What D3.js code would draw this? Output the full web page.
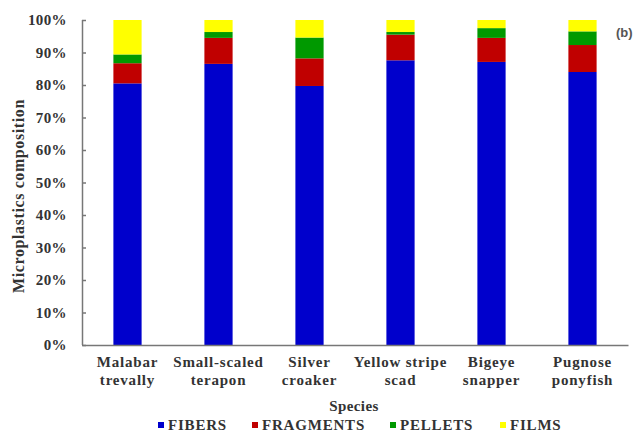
<!DOCTYPE html>
<html>
<head>
<meta charset="utf-8">
<script src="https://cdn.jsdelivr.net/npm/d3@7"></script>
<style>
  body { margin: 0; background: #fff; }
</style>
</head>
<body>
<div id="chart"></div>
<script>
const width = 637
const height = 432
const margin = { top: 20, right: 9, bottom: 87, left: 82 }
const chartWidth = width - margin.left - margin.right
const chartHeight = height - margin.top - margin.bottom
const serif = "Liberation Serif"

// data (percent)
const species = [
  ["Malabar", "trevally"],
  ["Small-scaled", "terapon"],
  ["Silver", "croaker"],
  ["Yellow stripe", "scad"],
  ["Bigeye", "snapper"],
  ["Pugnose", "ponyfish"]
]
const fibers    = [80.5, 86.5, 79.7, 87.6, 87.1, 84.0]
const fragments = [6.2, 8.0, 8.5, 7.9, 7.4, 8.3]
const pellets   = [2.7, 1.8, 6.4, 0.8, 3.0, 4.2]
const films     = [10.6, 3.7, 5.4, 3.7, 2.5, 3.5]
const yTicks = [0, 10, 20, 30, 40, 50, 60, 70, 80, 90, 100]

const keys = ["FIBERS", "FRAGMENTS", "PELLETS", "FILMS"]
const colors = ["#0000cc", "#c00000", "#009900", "#ffff00"]

let rows = species.map((s, i) => ({
  name: s.join(" "),
  FIBERS: fibers[i],
  FRAGMENTS: fragments[i],
  PELLETS: pellets[i],
  FILMS: films[i]
}))

let stacked = d3.stack().keys(keys)(rows)

let svg = d3.select("#chart").append("svg")
  .attr("width", width)
  .attr("height", height)

let chart = svg.append("g").attr("transform", `translate(${margin.left},${margin.top})`)

let xScale = d3.scaleBand()
  .domain(rows.map(d => d.name))
  .range([0, chartWidth])
  .paddingInner(0.69)
  .paddingOuter(0.345)

let yScale = d3.scaleLinear()
  .domain([0, 100])
  .range([chartHeight, 0])

let color = d3.scaleOrdinal().domain(keys).range(colors)

// bars
chart.selectAll(".series")
  .data(stacked)
  .join("g")
  .attr("class", "series")
  .attr("fill", d => color(d.key))
  .selectAll("rect")
  .data(d => d)
  .join("rect")
  .attr("x", d => xScale(d.data.name))
  .attr("width", xScale.bandwidth())
  .attr("y", d => yScale(d[1]))
  .attr("height", d => yScale(d[0]) - yScale(d[1]))

// y axis, ticks pointing inward
let yAxis = d3.axisRight(yScale)
  .tickValues(yTicks)
  .tickSize(4)
  .tickFormat(d => d + "%")

let yAxisG = chart.append("g").attr("class", "yAxis").call(yAxis)
yAxisG.select(".domain").attr("stroke", "#777").attr("stroke-width", 1.5).attr("d", `M0.5,0V${chartHeight}`)
yAxisG.selectAll(".tick line").attr("stroke", "#777").attr("stroke-width", 1.5)
yAxisG.selectAll(".tick text")
  .attr("x", -15)
  .attr("text-anchor", "end")
  .attr("fill", "#333")
  .attr("font-size", "15px")
  .attr("font-family", serif)
  .attr("font-weight", "bold")
  .attr("letter-spacing", "0.4px")

// x axis line
let xAxis = d3.axisBottom(xScale).tickSize(0).tickFormat("")
let xAxisG = chart.append("g").attr("transform", `translate(0,${chartHeight})`).call(xAxis)
xAxisG.select(".domain").attr("stroke", "#777").attr("stroke-width", 1.5)

// two-line category labels
xAxisG.selectAll(".tick").each(function (d, i) {
  let t = d3.select(this).append("text")
    .attr("fill", "#333")
    .attr("font-family", serif)
    .attr("font-weight", "bold")
    .attr("font-size", "15px")
    .attr("letter-spacing", "0.8px")
    .attr("text-anchor", "middle")
  t.selectAll("tspan")
    .data(species[i])
    .join("tspan")
    .attr("x", 0)
    .attr("y", (s, j) => 22 + j * 18)
    .text(s => s)
})

// axis titles
svg.append("text")
  .attr("x", margin.left + chartWidth / 2 - 1)
  .attr("y", 411)
  .attr("text-anchor", "middle")
  .attr("fill", "#333")
  .attr("font-family", serif)
  .attr("font-weight", "bold")
  .attr("font-size", "15px")
  .attr("letter-spacing", "0.4px")
  .text("Species")

svg.append("text")
  .attr("transform", "translate(24,196) rotate(-90)")
  .attr("text-anchor", "middle")
  .attr("fill", "#333")
  .attr("font-family", serif)
  .attr("font-weight", "bold")
  .attr("font-size", "16px")
  .attr("letter-spacing", "0.6px")
  .text("Microplastics composition")

svg.append("text")
  .attr("x", 616)
  .attr("y", 37)
  .attr("fill", "#555")
  .attr("font-family", "Liberation Sans")
  .attr("font-weight", "bold")
  .attr("font-size", "13px")
  .text("(b)")

// legend
let legendX = [158, 252, 390, 500]
let legend = svg.append("g").attr("class", "legend")
let entries = legend.selectAll("g")
  .data(keys)
  .join("g")
  .attr("transform", (d, i) => `translate(${legendX[i]},425)`)

entries.append("rect")
  .attr("x", 0)
  .attr("y", -3)
  .attr("width", 6)
  .attr("height", 6)
  .attr("fill", d => color(d))

entries.append("text")
  .attr("x", 10)
  .attr("y", 5)
  .attr("fill", "#333")
  .attr("font-family", serif)
  .attr("font-weight", "bold")
  .attr("font-size", "15px")
  .attr("letter-spacing", "0.8px")
  .text(d => d)
</script>
</body>
</html>
